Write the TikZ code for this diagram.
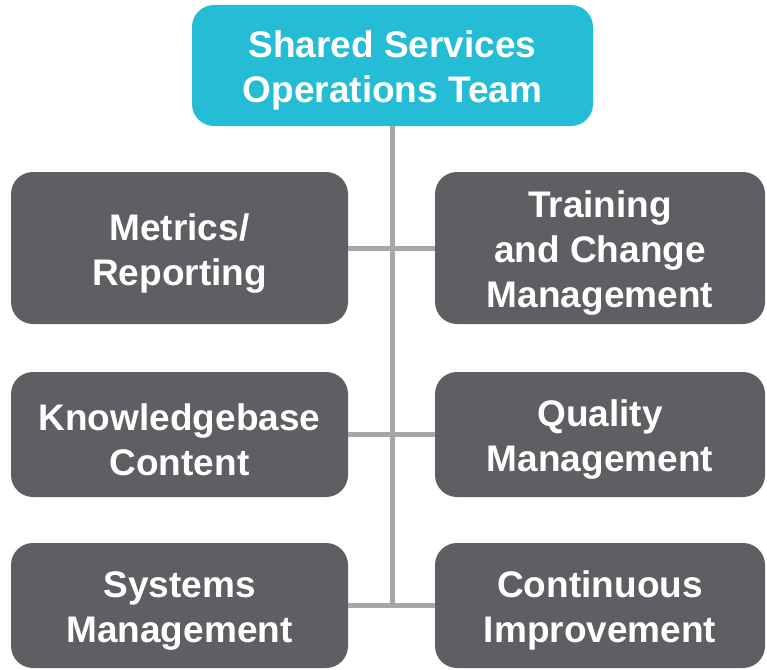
\documentclass[tikz,border=0pt]{standalone}
\usepackage{fontspec}
\setmainfont{Liberation Sans}
\usetikzlibrary{positioning}
\definecolor{teamcyan}{HTML}{25BCD6}
\definecolor{unitgray}{HTML}{5E5F63}
\definecolor{linkgray}{HTML}{A7A7AA}
\newcommand{\topgap}{\rule{0pt}{37pt}}

\begin{document}
\begin{tikzpicture}[x=1pt, y=-1pt,
  box/.style={rounded corners=22pt, inner sep=0pt, align=center, text=white, font=\fontsize{37}{45}\selectfont\bfseries},
  headbox/.style={box, fill=teamcyan, minimum width=401pt, minimum height=121pt},
  unitbox/.style={box, fill=unitgray, minimum height=125pt},
  leftbox/.style={unitbox, minimum width=337pt},
  rightbox/.style={unitbox, minimum width=330pt},
  link/.style={draw=linkgray, line width=5pt}
]
\useasboundingbox (0,0) rectangle (767,669);
\node[headbox] (head) at (392.5,65.5) {\topgap Shared Services\\Operations Team};
\node[leftbox, minimum height=152pt] (metrics) at (179.5,248) {\topgap Metrics/\\Reporting};
\node[rightbox, minimum height=152pt] (training) at (600,248) {\topgap Training\\and Change\\Management};
\node[leftbox] (knowledge) at (179.5,434.5) {\topgap Knowledgebase\\Content};
\node[rightbox] (quality) at (600,434.5) {\topgap Quality\\Management};
\node[leftbox] (systems) at (179.5,605.5) {\topgap Systems\\Management};
\node[rightbox] (improve) at (600,605.5) {\topgap Continuous\\Improvement};

\draw[link] (head.south) -- (head.south |- systems.east);
\draw[link] (metrics.east) -- (training.west);
\draw[link] (knowledge.east) -- (quality.west);
\draw[link] (systems.east) -- (improve.west);
\end{tikzpicture}
\end{document}
